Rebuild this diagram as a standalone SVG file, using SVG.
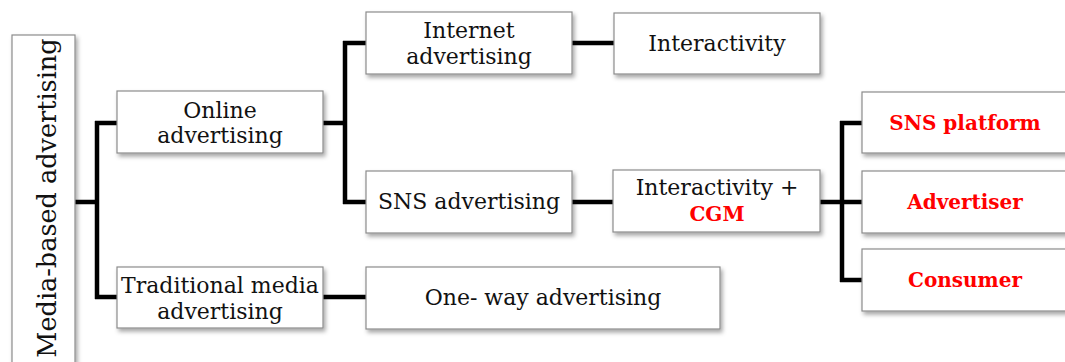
<svg xmlns="http://www.w3.org/2000/svg" width="1065" height="362" viewBox="0 0 1065 362">
  <defs>
    <filter id="shadow" x="-10%" y="-10%" width="130%" height="140%">
      <feDropShadow dx="2" dy="3" stdDeviation="2" flood-color="#000" flood-opacity="0.35"/>
    </filter>
  </defs>
  <style>
    .box { fill: #fff; stroke: #8c8c8c; stroke-width: 1.2; filter: url(#shadow); }
    .lbl { font-family: "DejaVu Serif", "Liberation Serif", serif; font-size: 22px; fill: #111; text-anchor: middle; }
    .hot { font-family: "DejaVu Serif", "Liberation Serif", serif; font-size: 20px; font-weight: bold; fill: #ff0000; text-anchor: middle; }
    .big { font-size: 25.5px; }
    .wire { fill: none; stroke: #000; stroke-width: 4.5; stroke-linejoin: miter; }
  </style>

  <!-- connectors -->
  <g id="connectors">
    <path class="wire" d="M75 202 H97 M97 121 V299 M95 123 H117 M95 297 H117"/>
    <path class="wire" d="M323 123 H345 M345 41 V204 M343 43 H366 M343 202 H366"/>
    <path class="wire" d="M572 43 H614"/>
    <path class="wire" d="M572 202 H613"/>
    <path class="wire" d="M820 202 H842 M842 121 V282 M840 123 H862 M840 202 H862 M840 280 H862"/>
    <path class="wire" d="M323 297 H366"/>
  </g>

  <!-- nodes -->
  <g id="media-based">
    <rect class="box" x="12" y="35" width="63" height="340"/>
    <text class="lbl big" transform="translate(56 198) rotate(-90)">Media-based advertising</text>
  </g>
  <g id="online">
    <rect class="box" x="117" y="91" width="206" height="62"/>
    <text class="lbl" x="220" y="118">Online</text>
    <text class="lbl" x="220" y="143">advertising</text>
  </g>
  <g id="traditional">
    <rect class="box" x="117" y="267" width="206" height="61"/>
    <text class="lbl" x="220" y="293">Traditional media</text>
    <text class="lbl" x="220" y="319">advertising</text>
  </g>
  <g id="internet">
    <rect class="box" x="366" y="12" width="206" height="62"/>
    <text class="lbl" x="469" y="38">Internet</text>
    <text class="lbl" x="469" y="64">advertising</text>
  </g>
  <g id="sns">
    <rect class="box" x="366" y="171" width="206" height="62"/>
    <text class="lbl" x="469" y="209">SNS advertising</text>
  </g>
  <g id="oneway">
    <rect class="box" x="366" y="267" width="354" height="62"/>
    <text class="lbl" x="543" y="305">One- way advertising</text>
  </g>
  <g id="interactivity">
    <rect class="box" x="614" y="13" width="206" height="61"/>
    <text class="lbl" x="717" y="51">Interactivity</text>
  </g>
  <g id="interactivity-cgm">
    <rect class="box" x="613" y="170" width="207" height="62"/>
    <text class="lbl" x="717" y="195">Interactivity +</text>
    <text class="hot" x="717" y="221">CGM</text>
  </g>
  <g id="sns-platform">
    <rect class="box" x="862" y="92" width="215" height="61"/>
    <text class="hot" x="965" y="130">SNS platform</text>
  </g>
  <g id="advertiser">
    <rect class="box" x="862" y="171" width="215" height="62"/>
    <text class="hot" x="965" y="209">Advertiser</text>
  </g>
  <g id="consumer">
    <rect class="box" x="862" y="249" width="215" height="62"/>
    <text class="hot" x="965" y="287">Consumer</text>
  </g>
</svg>
